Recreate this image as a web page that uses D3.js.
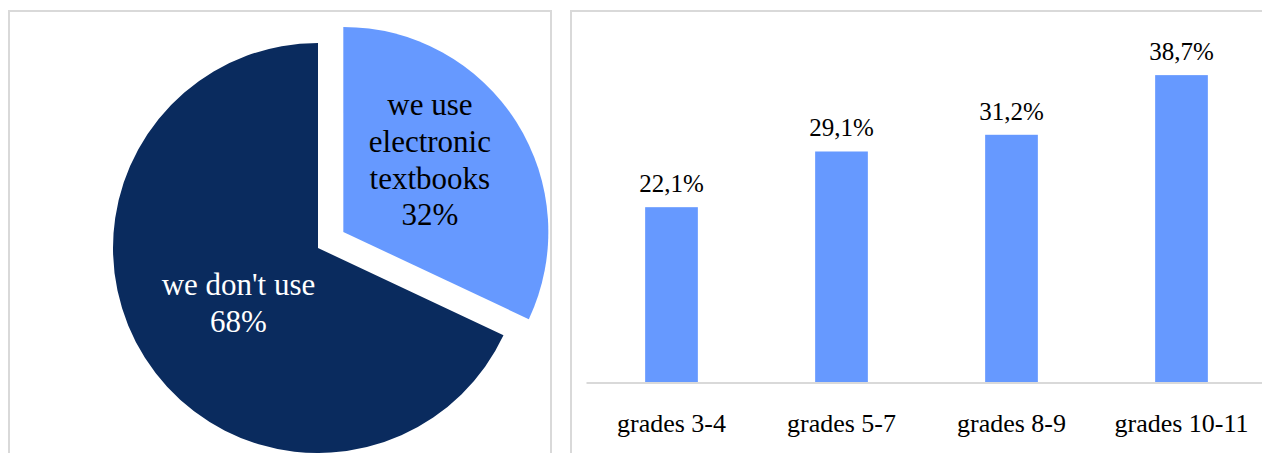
<!DOCTYPE html>
<html>
<head>
<meta charset="utf-8">
<script src="https://cdn.jsdelivr.net/npm/d3@7"></script>
<style>
  html, body { margin: 0; padding: 0; background: #fff; }
  svg text { font-family: 'Liberation Serif', Tinos, 'Times New Roman', Times, 'DejaVu Serif', serif; }
</style>
</head>
<body>
<svg id="chart"></svg>
<script>
// pie data
const pieNames = ["we use electronic textbooks", "we don't use"];
const pieLines = [["we use", "electronic", "textbooks"], ["we don't use"]];
const pieValues = [32, 68];
const pieColors = ["#6699ff", "#0a2b5e"];
const pieText = ["#000", "#fff"];

// bar data
const categories = ["grades 3-4", "grades 5-7", "grades 8-9", "grades 10-11"];
const shares = [22.1, 29.1, 31.2, 38.7];

const serif = "Liberation Serif, Tinos, Times New Roman, serif";

width = 1262;
height = 453;

const svg = d3.select("#chart")
    .attr("width", width)
    .attr("height", height)
    .attr("font-family", serif);

// panel frames
svg.append("rect")
    .attr("x", 9).attr("y", 11)
    .attr("width", 542).attr("height", 460)
    .attr("fill", "none")
    .attr("stroke", "#d9d9d9")
    .attr("stroke-width", 2);

svg.append("rect")
    .attr("x", 571).attr("y", 11)
    .attr("width", 720).attr("height", 460)
    .attr("fill", "none")
    .attr("stroke", "#d9d9d9")
    .attr("stroke-width", 2);

// ---- pie ----
const R = 205, cx = 318, cy = 248, explode = 30;
const lineH = 36.7, pieFont = 31;

const arcs = d3.pie().sort(null).value(d => d)(pieValues);
const arc = d3.arc().innerRadius(0).outerRadius(R);
const labelArc = d3.arc().innerRadius(R * 0.5).outerRadius(R * 0.5);

const pieG = svg.append("g").attr("transform", `translate(${cx},${cy})`);

const slice = pieG.selectAll("g.slice")
    .data(arcs)
    .join("g")
    .attr("class", "slice")
    .attr("transform", (d, i) => {
        if (i !== 0) return null;
        const a = (d.startAngle + d.endAngle) / 2;
        return `translate(${Math.sin(a) * explode},${-Math.cos(a) * explode})`;
    });

slice.append("path")
    .attr("d", arc)
    .attr("fill", (d, i) => pieColors[i]);

slice.each(function (d, i) {
    const lines = pieLines[i].concat([d.value + "%"]);
    let [lx, ly] = labelArc.centroid(d);
    if (i === 0) ly -= 17; // best-fit placement nudges it up
    else lx += 7;
    const t = d3.select(this).append("text")
        .attr("text-anchor", "middle")
        .attr("font-family", serif)
        .attr("font-size", pieFont)
        .attr("fill", pieText[i]);
    const y0 = ly - (lines.length - 1) * lineH / 2 + pieFont * 0.33;
    lines.forEach((s, k) => {
        t.append("tspan").attr("x", lx).attr("y", y0 + k * lineH).text(s);
    });
});

// ---- bars ----
const x = d3.scaleBand()
    .domain(categories)
    .range([586.5, 1266.5])
    .paddingInner(0.69)
    .paddingOuter(0.345);

const y = d3.scaleLinear()
    .domain([0, 45])
    .range([383, 25]);

const fmt = v => d3.format(".1f")(v).replace(".", ",") + "%";

svg.append("g")
    .selectAll("rect")
    .data(shares)
    .join("rect")
    .attr("x", (d, i) => x(categories[i]))
    .attr("y", d => y(d))
    .attr("width", x.bandwidth())
    .attr("height", d => y(0) - y(d))
    .attr("fill", "#6699ff");

svg.append("line")
    .attr("x1", 586.5).attr("x2", width)
    .attr("y1", y(0)).attr("y2", y(0))
    .attr("stroke", "#d9d9d9")
    .attr("stroke-width", 2);

svg.append("g")
    .selectAll("text")
    .data(shares)
    .join("text")
    .attr("x", (d, i) => x(categories[i]) + x.bandwidth() / 2)
    .attr("y", d => y(d) - 15)
    .attr("text-anchor", "middle")
    .attr("font-family", serif)
    .attr("font-size", 25)
    .attr("fill", "#000")
    .text(fmt);

svg.append("g")
    .selectAll("text")
    .data(categories)
    .join("text")
    .attr("x", d => x(d) + x.bandwidth() / 2)
    .attr("y", 432)
    .attr("text-anchor", "middle")
    .attr("font-family", serif)
    .attr("font-size", 26)
    .attr("fill", "#000")
    .text(d => d);
</script>
</body>
</html>
